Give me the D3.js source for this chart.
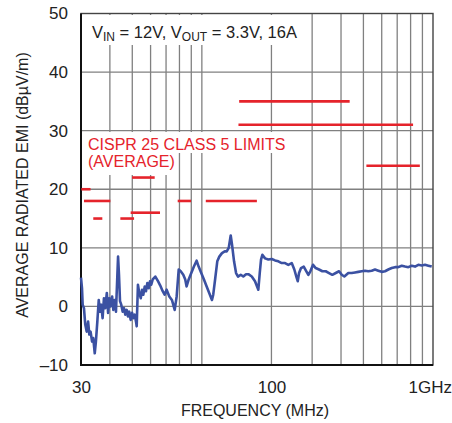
<!DOCTYPE html>
<html>
<head>
<meta charset="utf-8">
<script src="https://cdn.jsdelivr.net/npm/d3@7"></script>
<style>
  html, body { margin: 0; padding: 0; background: #fff; }
  svg { display: block; font-family: "Liberation Sans", Arial, sans-serif; }
</style>
</head>
<body>
<svg id="chart"></svg>
<script>
// measured trace (frequency in MHz, level in dBuV/m)
const emiFreqMHz = [30.0, 30.3, 30.5, 30.9, 31.3, 31.75, 32.2, 32.6, 33.0, 33.5, 33.9, 34.4, 34.8, 35.3, 35.8,
  36.25, 36.7, 37.2, 37.7, 38.2, 38.8, 39.3, 39.8, 40.3, 40.9, 41.4, 42.0, 42.5, 43.1, 43.4, 43.8, 44.25,
  44.8, 45.45, 46.05, 46.65, 47.3, 47.9, 48.5, 49.2, 49.9, 50.5, 51.2, 51.9, 52.25, 52.9, 53.6, 54.4,
  55.1, 55.8, 56.6, 57.3, 58.1, 58.9, 59.65, 60.4, 61.3, 62.9, 64.6, 66.0, 67.7, 69.0, 70.4, 72.3, 74.2,
  76.3, 77.8, 79.4, 81.0, 83.1, 84.75, 85.9, 87.7, 90.0, 92.4, 94.9, 96.85, 99.4, 102.1, 104.9, 107.6,
  110.6, 112.0, 114.3, 116.6, 119.0, 122.2, 125.6, 128.1, 130.7, 133.3, 135.1, 137.8, 140.6, 143.4,
  147.3, 151.1, 155.3, 158.9, 164.4, 169.8, 173.3, 175.5, 178.0, 180.3, 182.7, 187.7, 193.9, 200.6,
  207.3, 214.2, 221.6, 229.0, 236.6, 244.8, 251.2, 256.3, 259.9, 263.3, 268.6, 275.9, 283.2, 288.9,
  294.7, 302.7, 310.9, 321.3, 332.1, 343.5, 355.0, 366.8, 379.5, 392.2, 402.9, 413.4, 430.2, 445.0,
  459.9, 475.2, 491.6, 508.0, 525.0, 543.1, 561.2, 580.0, 600.0, 620.0, 640.8, 662.8, 684.9, 707.8,
  732.2, 756.7, 782.0, 809.0, 836.0, 864.0, 893.8, 923.6, 954.5, 987.4];
const emiDb = [4.9, 3.1, 0.3, -0.3, -3.1, -4.3, -2.6, -4.8, -4.3, -6.0, -5.4, -8.0, -6.0, -2.6, 1.1,
  -0.9, 0.3, -2.0, 1.4, -0.3, 2.3, -1.1, 1.4, 0.0, 1.7, -0.6, 1.1, -0.9, 5.4, 8.5, 5.4, 0.9,
  0.3, -0.9, -0.3, -1.4, -0.6, -1.7, -0.9, -2.3, -1.1, -2.0, -1.4, -2.6, -3.4, 3.7, 2.3, 1.4,
  2.85, 2.0, 3.4, 2.6, 4.0, 3.1, 4.3, 3.7, 4.6, 5.1, 4.3, 3.6, 2.6, 2.0, 2.85, 1.7, 1.1,
  -0.6, 1.7, 6.3, 6.0, 5.4, 4.6, 3.4, 4.6, 5.7, 6.8, 7.8, 6.8, 5.7, 4.6, 3.4, 2.3,
  1.1, 2.0, 4.85, 7.7, 8.5, 9.1, 9.4, 9.4, 10.0, 12.1, 10.5, 7.7, 5.7, 5.1,
  5.4, 5.1, 5.5, 5.5, 5.1, 4.3, 3.4, 2.85, 5.7, 8.0, 8.8, 8.2, 8.0, 8.1,
  7.85, 7.7, 7.4, 7.4, 7.1, 7.4, 6.3, 5.1, 4.3, 5.7, 6.55, 6.8, 6.0, 5.4,
  6.0, 7.1, 6.55, 6.3, 6.0, 6.0, 5.7, 5.4, 5.7, 6.0, 5.4, 5.1, 5.7, 5.7,
  5.8, 5.9, 6.0, 6.1, 6.0, 6.1, 6.3, 6.1, 5.9, 6.0, 6.3, 6.55, 6.7, 6.7,
  6.95, 6.8, 6.7, 6.95, 6.8, 7.1, 7.0, 7.1, 6.95, 6.8];

// CISPR 25 class 5 average limit segments
const limitStartMHz = [30.1, 30.9, 33.9, 44.4, 49.2, 49.9, 78.6, 104, 145, 144, 515];
const limitEndMHz   = [33.0, 40.2, 37.1, 50.9, 65.9, 62.5, 89.8, 173, 436, 820, 877];
const limitDb       = [20, 18, 15, 15, 16, 22, 18, 18, 35, 31, 24];

// axes
const yTicks = [-10, 0, 10, 20, 30, 40, 50];
const yGrid = [0, 10, 20, 30, 40];
const xGrid = [40, 50, 60, 70, 80, 90, 100, 200, 300, 400, 500, 600, 700, 800, 900];
const xTickValues = [30, 200, 1000];
const xTickLabels = ["30", "100", "1GHz"];

const W = 452, H = 423;
const svg = d3.select('#chart').attr('width', W).attr('height', H);

const x = d3.scaleLog().domain([30, 1000]).range([81, 433]);
const y = d3.scaleLinear().domain([-10, 50]).range([365, 13.5]);

const gridColor = '#808080';
const red = '#e5232b';

// grid
svg.append('g').selectAll('line').data(xGrid).join('line')
  .attr('x1', d => x(d)).attr('x2', d => x(d))
  .attr('y1', y(50)).attr('y2', y(-10))
  .attr('stroke', gridColor).attr('stroke-width', 1.3);
svg.append('g').selectAll('line').data(yGrid).join('line')
  .attr('x1', x(30)).attr('x2', x(1000))
  .attr('y1', d => y(d)).attr('y2', d => y(d))
  .attr('stroke', gridColor).attr('stroke-width', 1.3);

// knock-outs behind the text
const knock = svg.append('g').attr('fill', '#fff');
knock.append('rect').attr('x', 84).attr('y', 15).attr('width', 216).attr('height', 30);
knock.append('rect').attr('x', 85).attr('y', 132).attr('width', 205).attr('height', 21);
knock.append('rect').attr('x', 85).attr('y', 153).attr('width', 92).attr('height', 22);

// frame
svg.append('rect')
  .attr('x', x(30)).attr('y', y(50))
  .attr('width', x(1000) - x(30)).attr('height', y(-10) - y(50))
  .attr('fill', 'none').attr('stroke', '#444').attr('stroke-width', 1.4);
svg.append('path')
  .attr('d', `M${x(30)},${y(50)}V${y(-10)}H${x(1000)}`)
  .attr('fill', 'none').attr('stroke', '#111').attr('stroke-width', 2);

// limit lines
svg.append('g').selectAll('line').data(limitDb).join('line')
  .attr('x1', (d, i) => x(limitStartMHz[i])).attr('x2', (d, i) => x(limitEndMHz[i]))
  .attr('y1', d => y(d)).attr('y2', d => y(d))
  .attr('stroke', red).attr('stroke-width', 2.6);

// trace
const line = d3.line().x(d => x(d[0])).y(d => y(d[1]));
svg.append('path')
  .datum(emiFreqMHz.map((f, i) => [f, emiDb[i]]))
  .attr('d', line)
  .attr('fill', 'none').attr('stroke', '#3b51a2')
  .attr('stroke-width', 2.6).attr('stroke-linejoin', 'round');

// axes
const yAxis = svg.append('g').attr('transform', `translate(${x(30)},0)`)
  .call(d3.axisLeft(y).tickValues(yTicks).tickSize(0).tickPadding(13)
    .tickFormat(d => d < 0 ? '\u2013' + Math.abs(d) : d));
const xAxis = svg.append('g').attr('transform', `translate(0,${y(-10)})`)
  .call(d3.axisBottom(x).tickValues(xTickValues).tickSize(0).tickPadding(16)
    .tickFormat((d, i) => xTickLabels[i]));
[yAxis, xAxis].forEach(a => {
  a.select('.domain').remove();
  a.selectAll('text').attr('font-size', 17).attr('fill', '#222')
    .attr('font-family', '"Liberation Sans", Arial, sans-serif');
});
// last label sits flush with the right edge, as in the original
xAxis.selectAll('.tick').filter(d => d === 1000).select('text')
  .attr('text-anchor', 'end').attr('x', 18.5);

// axis titles
svg.append('text')
  .attr('x', 255).attr('y', 416).attr('text-anchor', 'middle')
  .attr('font-size', 16).attr('fill', '#222')
  .text('FREQUENCY (MHz)');
svg.append('text')
  .attr('transform', 'translate(28,185) rotate(-90)')
  .attr('text-anchor', 'middle')
  .attr('font-size', 16).attr('fill', '#222')
  .text('AVERAGE RADIATED EMI (dBµV/m)');

// condition label
const t = svg.append('text').attr('x', 92).attr('y', 37.5)
  .attr('font-size', 16.5).attr('fill', '#222');
t.append('tspan').text('V');
t.append('tspan').attr('font-size', 12).attr('dy', 3).text('IN');
t.append('tspan').attr('dy', -3).text(' = 12V, V');
t.append('tspan').attr('font-size', 12).attr('dy', 3).text('OUT');
t.append('tspan').attr('dy', -3).text(' = 3.3V, 16A');

// limit label
svg.append('text').attr('x', 88).attr('y', 149.5)
  .attr('font-size', 16).attr('fill', red)
  .text('CISPR 25 CLASS 5 LIMITS');
svg.append('text').attr('x', 88).attr('y', 166.5)
  .attr('font-size', 16).attr('fill', red)
  .text('(AVERAGE)');
</script>
</body>
</html>
